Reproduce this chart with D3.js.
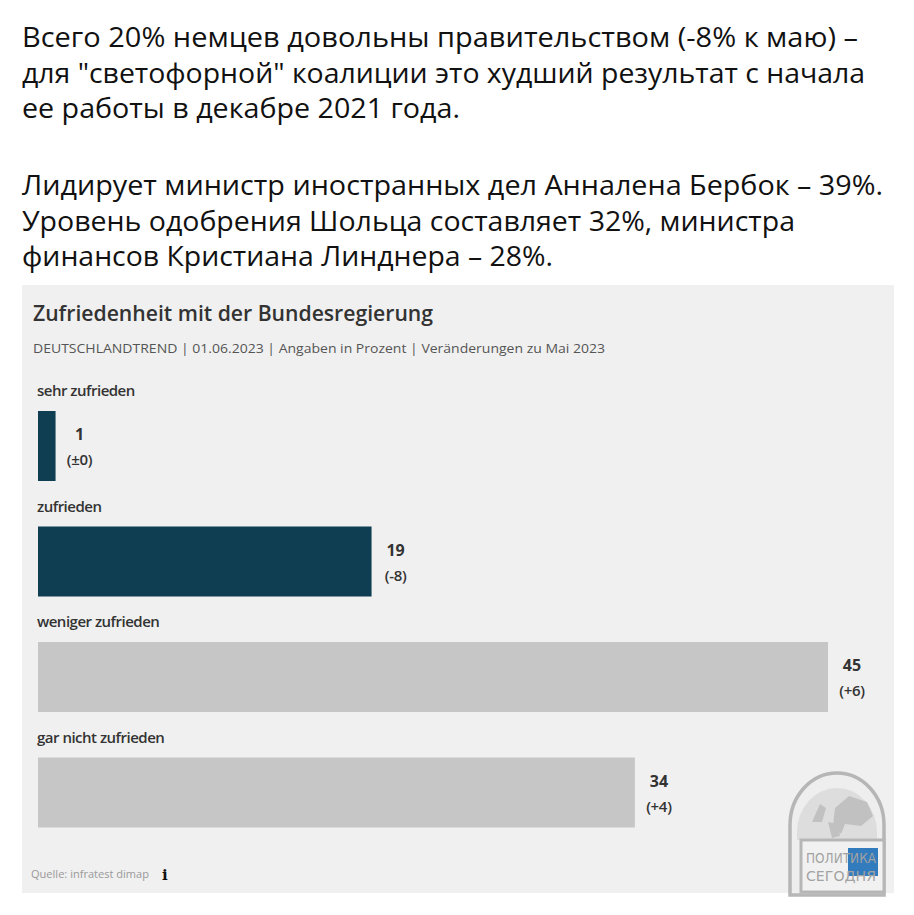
<!DOCTYPE html>
<html><head><meta charset="utf-8">
<script src="https://cdn.jsdelivr.net/npm/d3@7"></script>
<style>body{margin:0;background:#fff;}svg{display:block;}</style>
</head><body>
<script>
const headerLines = [
  "Всего 20% немцев довольны правительством (-8% к маю) –",
  "для \"светофорной\" коалиции это худший результат с начала",
  "ее работы в декабре 2021 года.",
  "",
  "Лидирует министр иностранных дел Анналена Бербок – 39%.",
  "Уровень одобрения Шольца составляет 32%, министра",
  "финансов Кристиана Линднера – 28%."
];
const chartTitle = "Zufriedenheit mit der Bundesregierung";
const chartSubtitle = "DEUTSCHLANDTREND | 01.06.2023 | Angaben in Prozent |  Veränderungen zu Mai 2023";
const categories = ["sehr zufrieden", "zufrieden", "weniger zufrieden", "gar nicht zufrieden"];
const values = [1, 19, 45, 34];
const changes = ["(±0)", "(-8)", "(+6)", "(+4)"];
const colors = ["#0f3d52", "#0f3d52", "#c6c6c6", "#c6c6c6"];
const source = "Quelle: infratest dimap";

const W = 914, H = 915;
const svg = d3.select("body").append("svg").attr("width", W).attr("height", H);
svg.append("rect").attr("width", W).attr("height", H).attr("fill", "#fff");

// header text
const baselines = [47, 83, 118, null, 195, 231, 266];
const widths = [836, 843, 438, null, 861, 773, 531];
headerLines.forEach((t, i) => {
  if (!t) return;
  svg.append("text").attr("x", 22).attr("y", baselines[i])
    .attr("font-family", "'Open Sans', sans-serif").attr("font-size", 28)
    .attr("textLength", widths[i]).attr("lengthAdjust", "spacingAndGlyphs")
    .attr("fill", "#111").text(t);
});

// panel
svg.append("rect").attr("x", 22).attr("y", 285).attr("width", 872).attr("height", 608).attr("fill", "#f0f0f0");

svg.append("text").attr("x", 33).attr("y", 321)
  .attr("font-family", "'Open Sans', sans-serif").attr("font-weight", 600)
  .attr("font-size", 22).attr("fill", "#333")
  .attr("textLength", 400).attr("lengthAdjust", "spacingAndGlyphs").text(chartTitle);
svg.append("text").attr("x", 33).attr("y", 353)
  .attr("font-family", "'Open Sans', sans-serif").attr("font-size", 13.5)
  .attr("fill", "#555").attr("textLength", 572).attr("lengthAdjust", "spacingAndGlyphs").text(chartSubtitle);

const x = d3.scaleLinear().domain([0, 45]).range([38, 828]);
const y = d3.scaleBand().domain(categories).range([379, 841]).paddingInner(0).paddingOuter(0);

const g = svg.append("g");
categories.forEach((c, i) => {
  const top = y(c);
  const barTop = top + 32;
  const barH = 70;
  g.append("text").attr("x", 37).attr("y", top + 17)
    .attr("font-family", "'Open Sans', sans-serif").attr("font-weight", 600)
    .attr("font-size", 15).attr("fill", "#333").attr("letter-spacing", -0.5).text(c);
  g.append("rect").attr("x", x(0)).attr("y", barTop)
    .attr("width", x(values[i]) - x(0)).attr("height", barH).attr("fill", colors[i]);
  const lx = x(values[i]) + 24;
  g.append("text").attr("x", lx).attr("y", barTop + 29).attr("text-anchor", "middle")
    .attr("font-family", "'Open Sans', sans-serif").attr("font-weight", 700)
    .attr("font-size", 16).attr("fill", "#333").text(values[i]);
  g.append("text").attr("x", lx).attr("y", barTop + 54).attr("text-anchor", "middle")
    .attr("font-family", "'Open Sans', sans-serif").attr("font-weight", 600)
    .attr("font-size", 15).attr("fill", "#333").attr("letter-spacing", -0.3).text(changes[i]);
});

svg.append("text").attr("x", 31).attr("y", 878)
  .attr("font-family", "'Open Sans', sans-serif").attr("font-size", 11)
  .attr("fill", "#999").attr("textLength", 118).attr("lengthAdjust", "spacingAndGlyphs").text(source);
svg.append("text").attr("x", 162).attr("y", 880)
  .attr("font-family", "'DejaVu Serif', serif").attr("font-weight", 700)
  .attr("font-size", 15).attr("fill", "#111").text("i");

// watermark logo (simplified)
const logo = svg.append("g").attr("opacity", 0.9);
logo.append("path")
  .attr("d", "M790,895 L790,825 A47,52 0 0 1 884,825 L884,895 Z")
  .attr("fill", "#eeeeee").attr("stroke", "#b0b0b0").attr("stroke-width", 3.5);
logo.append("path")
  .attr("d", "M797,832 A40,44 0 0 1 877,832 L877,840 L797,840 Z")
  .attr("fill", "#dcdcdc");
logo.append("path")
  .attr("d", "M812,822 l8,-18 l6,4 l-4,14 Z M835,808 l14,-12 l18,6 l6,14 l-12,10 l-16,-2 l-4,10 l-8,-8 Z M828,822 l10,2 l2,12 l-8,2 Z")
  .attr("fill", "#bdbdbd");
logo.append("rect").attr("x", 801).attr("y", 840).attr("width", 83).attr("height", 52)
  .attr("fill", "#f2f2f2").attr("stroke", "#b0b0b0").attr("stroke-width", 3);
logo.append("rect").attr("x", 848).attr("y", 848).attr("width", 30).attr("height", 28).attr("fill", "#1e6fb8");
logo.append("text").attr("x", 806).attr("y", 863)
  .attr("font-family", "'Liberation Sans Narrow', 'DejaVu Sans Condensed', sans-serif").attr("font-size", 14)
  .attr("fill", "#9a9a9a").attr("textLength", 70).attr("lengthAdjust", "spacingAndGlyphs").text("ПОЛИТИКА");
logo.append("text").attr("x", 806).attr("y", 881)
  .attr("font-family", "'Liberation Sans Narrow', 'DejaVu Sans Condensed', sans-serif").attr("font-size", 14)
  .attr("fill", "#9a9a9a").attr("textLength", 70).attr("lengthAdjust", "spacingAndGlyphs").text("СЕГОДНЯ");
</script>
</body></html>
